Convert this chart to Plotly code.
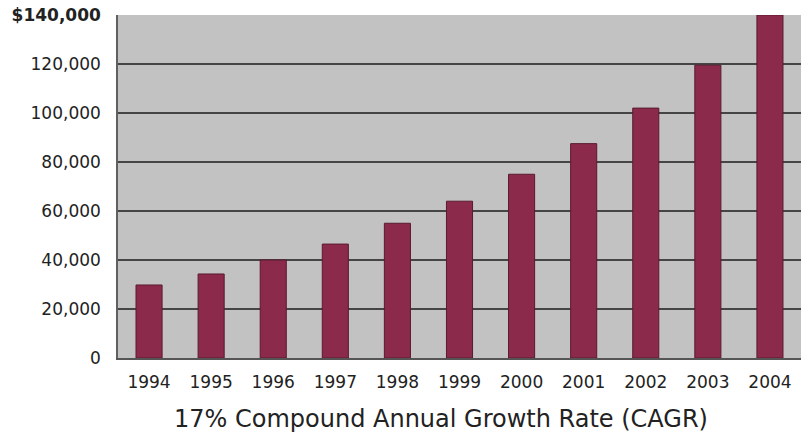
import plotly.graph_objects as go

years = ["1994", "1995", "1996", "1997", "1998", "1999", "2000", "2001", "2002", "2003", "2004"]
revenue = [29800, 34300, 40000, 46500, 55000, 64000, 75000, 87500, 102000, 119500, 140000]
tick_vals = [0, 20000, 40000, 60000, 80000, 100000, 120000, 140000]
tick_text = ["0", "20,000", "40,000", "60,000", "80,000", "100,000", "120,000", "<b>$140,000</b>"]
x_title = "17% Compound Annual Growth Rate (CAGR)"

fig = go.Figure(go.Bar(
    x=years, y=revenue,
    marker=dict(color="#8c2a4b", line=dict(color="#5a1a30", width=1)),
))
fig.update_layout(
    width=801, height=437,
    margin=dict(l=118, r=0, t=15, b=79),
    paper_bgcolor="white", plot_bgcolor="#c2c2c2",
    bargap=0.58, showlegend=False,
    font=dict(family="DejaVu Sans, Verdana, sans-serif", color="#222222", size=17),
    annotations=[dict(
        text=x_title, xref="paper", yref="paper", x=0.473, y=-0.178,
        xanchor="center", yanchor="middle", showarrow=False,
        font=dict(size=24, color="#222222"),
    )],
)
fig.update_xaxes(
    type="category", showgrid=False, ticks="", ticklen=0,
    showline=True, linecolor="#555555", linewidth=1.5,
    tickfont=dict(size=17), ticklabelstandoff=8,
)
fig.update_yaxes(
    range=[0, 140000], tickvals=tick_vals, ticktext=tick_text,
    showgrid=True, gridcolor="#454545", gridwidth=2,
    showline=True, linecolor="#606060", linewidth=1.5, mirror=False,
    zeroline=False, ticks="", tickfont=dict(size=17), ticklabelstandoff=12,
)
fig.write_html("out.html")
